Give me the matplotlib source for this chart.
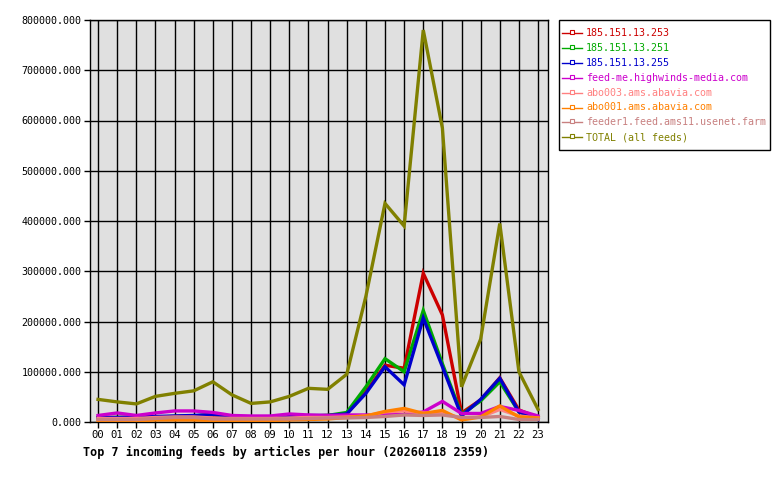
import matplotlib
matplotlib.use("Agg")
import matplotlib.pyplot as plt
from matplotlib.lines import Line2D
from matplotlib.patches import Rectangle
from matplotlib.ticker import FuncFormatter, MultipleLocator

hours = ['00', '01', '02', '03', '04', '05', '06', '07', '08', '09', '10', '11',
         '12', '13', '14', '15', '16', '17', '18', '19', '20', '21', '22', '23']

feed_253 = [9000, 9000, 9000, 10000, 11000, 12000, 14000, 10000, 9000, 9000, 10000, 12000,
            13000, 16000, 60000, 113000, 107000, 296000, 213000, 18000, 44000, 88000, 24000, 9000]
feed_251 = [8000, 9000, 9000, 10000, 11000, 12000, 15000, 10000, 9000, 9000, 12000, 12000,
            13000, 19000, 70000, 126000, 100000, 222000, 116000, 15000, 42000, 80000, 20000, 8000]
feed_255 = [9000, 9000, 10000, 11000, 12000, 13000, 15000, 11000, 10000, 10000, 11000, 13000,
            13000, 16000, 57000, 110000, 74000, 207000, 110000, 12000, 45000, 87000, 20000, 5000]
feed_me = [13000, 18000, 13000, 18000, 22000, 22000, 19000, 13000, 12000, 12000, 16000, 14000,
           13000, 14000, 14000, 15000, 15000, 20000, 41000, 17000, 17000, 31000, 23000, 12000]
abo003 = [7000, 7000, 7000, 9000, 10000, 10000, 8000, 7000, 7000, 7000, 8000, 9000,
          9000, 10000, 12000, 20000, 22000, 18000, 18000, 8000, 10000, 25000, 12000, 8000]
abo001 = [1500, 1500, 2000, 4000, 4000, 4000, 3000, 3000, 3000, 3000, 4000, 5000,
          6000, 9000, 12000, 21000, 27000, 17000, 23000, 4000, 10000, 32000, 10000, 8000]
feeder1 = [5000, 5000, 5000, 7000, 9000, 9000, 6000, 6000, 6000, 6000, 6000, 7000,
           8000, 8000, 9000, 11000, 14000, 13000, 14000, 9000, 9000, 11000, 5000, 5000]
total = [45000, 40000, 36000, 51000, 57000, 62000, 80000, 54000, 37000, 40000, 51000, 67000,
         65000, 95000, 250000, 435000, 390000, 780000, 585000, 70000, 165000, 395000, 100000, 25000]

labels = ['185.151.13.253', '185.151.13.251', '185.151.13.255', 'feed-me.highwinds-media.com',
          'abo003.ams.abavia.com', 'abo001.ams.abavia.com', 'feeder1.feed.ams11.usenet.farm',
          'TOTAL (all feeds)']
series = [feed_253, feed_251, feed_255, feed_me, abo003, abo001, feeder1, total]
colors = ['#cc0000', '#00aa00', '#0000cc', '#cc00cc', '#ff8080', '#ff8000', '#c88080', '#808000']

mono = 'DejaVu Sans Mono'
fig = plt.figure(figsize=(7.8, 4.8), dpi=100)
ax = fig.add_axes([90/780, 1-422/480, 458/780, 402/480])
ax.set_facecolor('#e0e0e0')
x = list(range(len(hours)))
for s, c in zip(series, colors):
    ax.plot(x, s, color=c, lw=2.4, solid_joinstyle='miter', zorder=3)

ax.set_xlim(-0.42, 23.52)
ax.set_ylim(0, 800000)
ax.set_xticks(x)
ax.set_xticklabels(hours, fontfamily=mono, fontsize=7.6)
ax.yaxis.set_major_locator(MultipleLocator(100000))
ax.yaxis.set_major_formatter(FuncFormatter(lambda v, p: f"{v:.3f}"))
for lab in ax.get_yticklabels():
    lab.set_fontfamily(mono)
    lab.set_fontsize(7.2)
ax.tick_params(axis='both', length=4, width=1, color='black', pad=2)
ax.grid(True, color='black', lw=1, zorder=1)
ax.set_axisbelow(True)
for sp in ax.spines.values():
    sp.set_color('black')
    sp.set_linewidth(1)

fig.text(83/780, 1-452/480, 'Top 7 incoming feeds by articles per hour (20260118 2359)',
         fontfamily=mono, fontweight='bold', fontsize=8.5, va='center', ha='left')

# legend box
fig.patches.append(Rectangle((559/780, 1-150/480), 211/780, 130/480, transform=fig.transFigure,
                             facecolor='white', edgecolor='black', lw=1))
for i, (lab, c) in enumerate(zip(labels, colors)):
    yy = 1 - (33 + i*14.9)/480
    fig.lines.append(Line2D([562/780, 582/780], [yy, yy], transform=fig.transFigure, color=c, lw=1))
    fig.lines.append(Line2D([572/780], [yy + 1/480], transform=fig.transFigure, color=c, marker='s',
                            markersize=2.5, markerfacecolor='white', markeredgecolor=c, markeredgewidth=0.8))
    fig.text(586/780, yy, lab, color=c, fontfamily=mono, fontsize=7.2, va='center', ha='left')

fig.savefig('out.png', dpi=100)
